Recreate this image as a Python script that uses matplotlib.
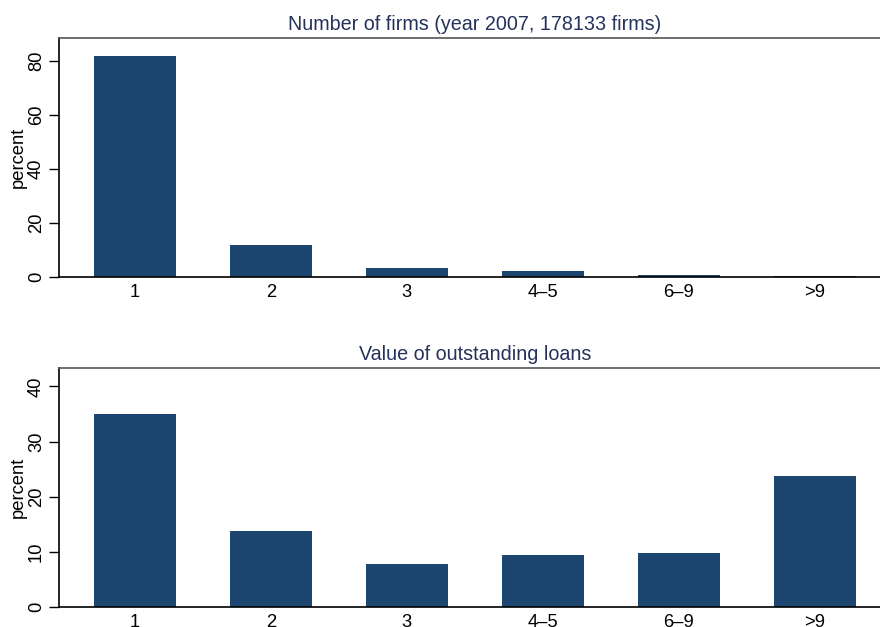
import matplotlib.pyplot as plt

plt.rcParams['font.family'] = ['Liberation Sans', 'DejaVu Sans']

categories = ["1", "2", "3", "4\u20135", "6\u20139", ">9"]
firms_pct = [81.8, 11.75, 3.3, 2.1, 0.8, 0.3]
loans_pct = [35.1, 13.8, 7.85, 9.5, 9.8, 23.7]

bar_color = "#1c4670"
title_color = "#25325c"

fig = plt.figure(figsize=(8.8, 6.27), dpi=100)
ax1 = fig.add_axes([0.067, 0.5587, 0.945, 0.3807])
ax2 = fig.add_axes([0.067, 0.0319, 0.945, 0.3807])

panels = [
    (ax1, firms_pct, "Number of firms (year 2007, 178133 firms)", [0, 20, 40, 60, 80], 88.5),
    (ax2, loans_pct, "Value of outstanding loans", [0, 10, 20, 30, 40], 43.3),
]

for ax, vals, title, yt, ytop in panels:
    x = list(range(len(categories)))
    ax.bar(x, vals, width=0.6, color=bar_color, zorder=2)
    ax.set_xlim(-0.557, 5.557)
    ax.set_ylim(0, ytop)
    ax.set_xticks(x)
    ax.set_xticklabels(categories, fontsize=13.2)
    ax.tick_params(axis='x', length=0, pad=5)
    ax.set_yticks(yt)
    ax.set_yticklabels([str(v) for v in yt], fontsize=13.2, rotation=90, va='center')
    ax.tick_params(axis='y', length=7, width=1, pad=3)
    ax.set_ylabel("percent", fontsize=13.2, labelpad=1)
    ax.set_title(title, fontsize=14.2, color=title_color, pad=6)
    for s in ax.spines.values():
        s.set_linewidth(1.2)
    ax.spines['top'].set_color('#555555')

fig.savefig("out.png", dpi=100)
